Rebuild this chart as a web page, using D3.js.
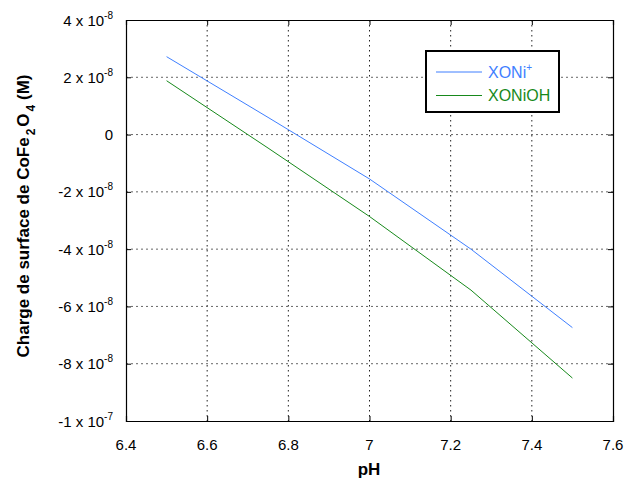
<!DOCTYPE html>
<html><head><meta charset="utf-8">
<script src="https://cdn.jsdelivr.net/npm/d3@7"></script>
<style>body{margin:0;background:#fff}text{font-family:"Liberation Sans",Arial,sans-serif}</style>
</head><body>
<svg id="c" width="624" height="481"></svg>
<script>
const pH = [6.5, 6.75, 7.0, 7.25, 7.5];
const xoniPlus = [2.72e-8, 0.6e-8, -1.55e-8, -4.0e-8, -6.74e-8];
const xoniOH = [1.88e-8, -0.47e-8, -2.86e-8, -5.43e-8, -8.5e-8];
const xTicks = [6.4, 6.6, 6.8, 7.0, 7.2, 7.4, 7.6];
const xTickLabels = ["6.4", "6.6", "6.8", "7", "7.2", "7.4", "7.6"];
const yTicks = [4e-8, 2e-8, 0, -2e-8, -4e-8, -6e-8, -8e-8, -1e-7];
const yTickMant = ["4", "2", "0", "-2", "-4", "-6", "-8", "-1"];
const yTickExp = ["-8", "-8", "", "-8", "-8", "-8", "-8", "-7"];
const seriesNames = ["XONi", "XONiOH"];
const colors = ["#3f7fff", "#17891b"];

const svg = d3.select("#c");
const L = 126, R = 613, T = 20, B = 421;
const x = d3.scaleLinear().domain([6.4, 7.6]).range([L, R]);
const y = d3.scaleLinear().domain([-1e-7, 4e-8]).range([B, T]);

// grid
const g = svg.append("g");
g.selectAll(".vg").data(xTicks.slice(1, -1)).enter().append("line")
  .attr("x1", d => x(d)).attr("x2", d => x(d)).attr("y1", T).attr("y2", B)
  .attr("stroke", "#222").attr("stroke-width", 1).attr("stroke-dasharray", "1.5,3.5");
g.selectAll(".hg").data(yTicks.slice(1, -1)).enter().append("line")
  .attr("y1", d => y(d)).attr("y2", d => y(d)).attr("x1", L).attr("x2", R)
  .attr("stroke", "#666").attr("stroke-width", 1).attr("stroke-dasharray", "2,3");

// axes with inward ticks
const xAxisB = d3.axisBottom(x).tickValues(xTicks).tickSize(-5).tickFormat("");
const xAxisT = d3.axisTop(x).tickValues(xTicks).tickSize(-5).tickFormat("");
const yAxisL = d3.axisLeft(y).tickValues(yTicks).tickSize(-5).tickFormat("");
const yAxisR = d3.axisRight(y).tickValues(yTicks).tickSize(-5).tickFormat("");
[[xAxisB, `translate(0,${B})`], [xAxisT, `translate(0,${T})`], [yAxisL, `translate(${L},0)`], [yAxisR, `translate(${R},0)`]]
  .forEach(([a, t]) => {
    const ga = svg.append("g").attr("transform", t).call(a);
    ga.select(".domain").attr("stroke", "#000").attr("stroke-width", 1.2);
    ga.selectAll(".tick line").attr("stroke", "#000");
  });

// x tick labels
svg.selectAll(".xl").data(xTicks).enter().append("text")
  .attr("x", d => x(d)).attr("y", 450).attr("text-anchor", "middle")
  .attr("font-size", 15).attr("fill", "#000").text((d, i) => xTickLabels[i]);

// y tick labels
yTicks.forEach((v, i) => {
  const t = svg.append("text").attr("x", 113).attr("y", y(v) + 5.5)
    .attr("text-anchor", "end").attr("font-size", 15).attr("fill", "#000");
  if (yTickExp[i] === "") {
    t.text(yTickMant[i]);
  } else {
    t.append("tspan").text(yTickMant[i] + " x 10");
    t.append("tspan").attr("dy", -7).attr("font-size", 10).text(yTickExp[i]);
  }
});

// axis titles
svg.append("text").attr("x", 369).attr("y", 475).attr("text-anchor", "middle")
  .attr("font-size", 17).attr("font-weight", "bold").text("pH");
const yt = svg.append("text").attr("transform", "translate(29,216) rotate(-90)")
  .attr("text-anchor", "middle").attr("font-size", 17).attr("font-weight", "bold");
yt.append("tspan").text("Charge de surface de CoFe");
yt.append("tspan").attr("dy", 6).attr("dx", 2).attr("font-size", 12).text("2");
yt.append("tspan").attr("dy", -6).attr("dx", 2).text("O");
yt.append("tspan").attr("dy", 6).attr("dx", 2).attr("font-size", 12).text("4");
yt.append("tspan").attr("dy", -6).text(" (M)");

// lines
const line = d3.line().x((d, i) => x(pH[i])).y(d => y(d));
[xoniPlus, xoniOH].forEach((s, k) => {
  svg.append("path").datum(s).attr("d", line).attr("fill", "none")
    .attr("stroke", colors[k]).attr("stroke-width", 1);
});

// legend
svg.append("rect").attr("x", 426).attr("y", 51).attr("width", 133).attr("height", 61)
  .attr("fill", "#fff").attr("stroke", "#000").attr("stroke-width", 2);
[72, 95.5].forEach((ly, k) => {
  svg.append("line").attr("x1", 436).attr("x2", 482).attr("y1", ly).attr("y2", ly)
    .attr("stroke", colors[k]).attr("stroke-width", 1);
  const t = svg.append("text").attr("x", 488).attr("y", ly + 5.5).attr("font-size", 16)
    .attr("fill", colors[k]);
  t.append("tspan").text(seriesNames[k]);
  if (k === 0) t.append("tspan").attr("dy", -7).attr("font-size", 10).text("+");
});
</script>
</body></html>
